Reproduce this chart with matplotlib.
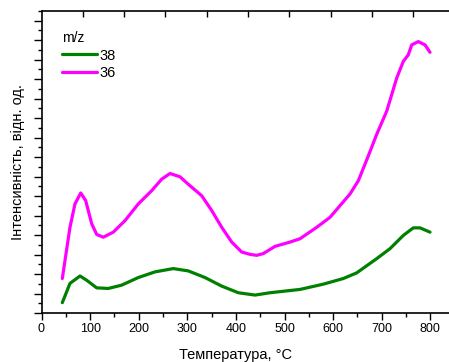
import numpy as np
import matplotlib
matplotlib.use("Agg")
import matplotlib.pyplot as plt

plt.rcParams['font.family'] = ['Liberation Sans', 'DejaVu Sans']

# Temperature (°C) and intensities (arb. units)
t36 = [42.8, 58.6, 68.9, 80.7, 90.9, 103.3, 113.6, 127.2, 147.7, 171.8, 199.2, 226.7,
       247.3, 264.4, 285.0, 305.6, 329.6, 350.2, 370.8, 391.4, 411.9, 429.0, 442.8, 456.4,
       480.5, 511.3, 531.9, 566.3, 593.6, 634.8, 651.9, 672.4, 689.7, 710.3, 730.9, 744.4,
       754.7, 761.7, 775.3, 789.1, 799.4]
i36 = [1.77, 4.40, 5.60, 6.16, 5.77, 4.58, 4.03, 3.89, 4.15, 4.74, 5.60, 6.28,
       6.87, 7.16, 6.99, 6.53, 6.02, 5.26, 4.40, 3.64, 3.13, 3.01, 2.96, 3.05,
       3.42, 3.64, 3.81, 4.40, 4.91, 6.11, 6.79, 8.06, 9.17, 10.36, 12.06, 12.91,
       13.25, 13.76, 13.93, 13.76, 13.38]

t38 = [42.8, 58.6, 79.2, 93.0, 113.6, 137.4, 165.0, 199.2, 233.5, 271.2, 302.0, 336.4,
       370.8, 404.9, 439.3, 470.2, 531.9, 579.8, 621.0, 648.6, 689.7, 717.0, 744.4,
       765.0, 778.8, 799.4]
i38 = [0.53, 1.52, 1.90, 1.68, 1.29, 1.26, 1.43, 1.82, 2.11, 2.28, 2.16, 1.82,
       1.38, 1.04, 0.92, 1.04, 1.21, 1.48, 1.77, 2.06, 2.79, 3.30, 3.98,
       4.37, 4.37, 4.15]

labels = ['38', '36']
colors = ['#008000', '#FF00FF']

W, H = 449, 362
fig = plt.figure(figsize=(W / 100, H / 100), dpi=100)
ax = fig.add_axes([41.5 / W, (H - 313) / H, (W - 41.5) / W, (313 - 11) / H])

ax.plot(t38, i38, color=colors[0], lw=2.3, label=labels[0],
        solid_capstyle='round', solid_joinstyle='round')
ax.plot(t36, i36, color=colors[1], lw=2.3, label=labels[1],
        solid_capstyle='round', solid_joinstyle='round')

ax.set_xlim(0, (W - 41.5) / 0.486)
ax.set_ylim(0, (313 - 11) / 19.6)

ax.set_xticks(np.arange(0, 801, 100))
ax.set_xticks(np.arange(50, 801, 100), minor=True)
ax.set_yticks(np.arange(0, 16, 1))
ax.set_yticks(np.arange(0.5, 16, 1), minor=True)
ax.set_yticklabels([])
ax.tick_params(axis='x', which='major', length=5, width=1, labelsize=9, direction='out', pad=2)
ax.tick_params(axis='x', which='minor', length=3, width=1, direction='out')
ax.tick_params(axis='y', which='major', length=6, width=1, direction='out')
ax.tick_params(axis='y', which='minor', length=3, width=1, direction='out')
ax.spines['right'].set_visible(False)
for s in ['left', 'bottom', 'top']:
    ax.spines[s].set_linewidth(1.2)

# inward ticks on top spine
top = ax.secondary_xaxis('top')
top.set_ticks(np.arange(1, 10) * 85.0)
top.set_xticklabels([])
top.tick_params(direction='in', length=4, width=1)
top.spines['top'].set_visible(False)

ax.set_xlabel('Температура, °C', fontsize=10.5)
ax.xaxis.set_label_coords(400 / ax.get_xlim()[1], -0.115)
ax.set_ylabel('Інтенсивність, відн. од.', fontsize=10.5)
ax.yaxis.set_label_coords(-0.04, 0.5)

leg = ax.legend(title='m/z', loc='upper left', frameon=False, fontsize=10.5,
                title_fontsize=10, handlelength=2.4, handletextpad=0.15,
                labelspacing=0.25, borderaxespad=0.3, bbox_to_anchor=(0.025, 0.968))
leg._legend_box.align = 'left'

fig.savefig('out.png', dpi=100)
